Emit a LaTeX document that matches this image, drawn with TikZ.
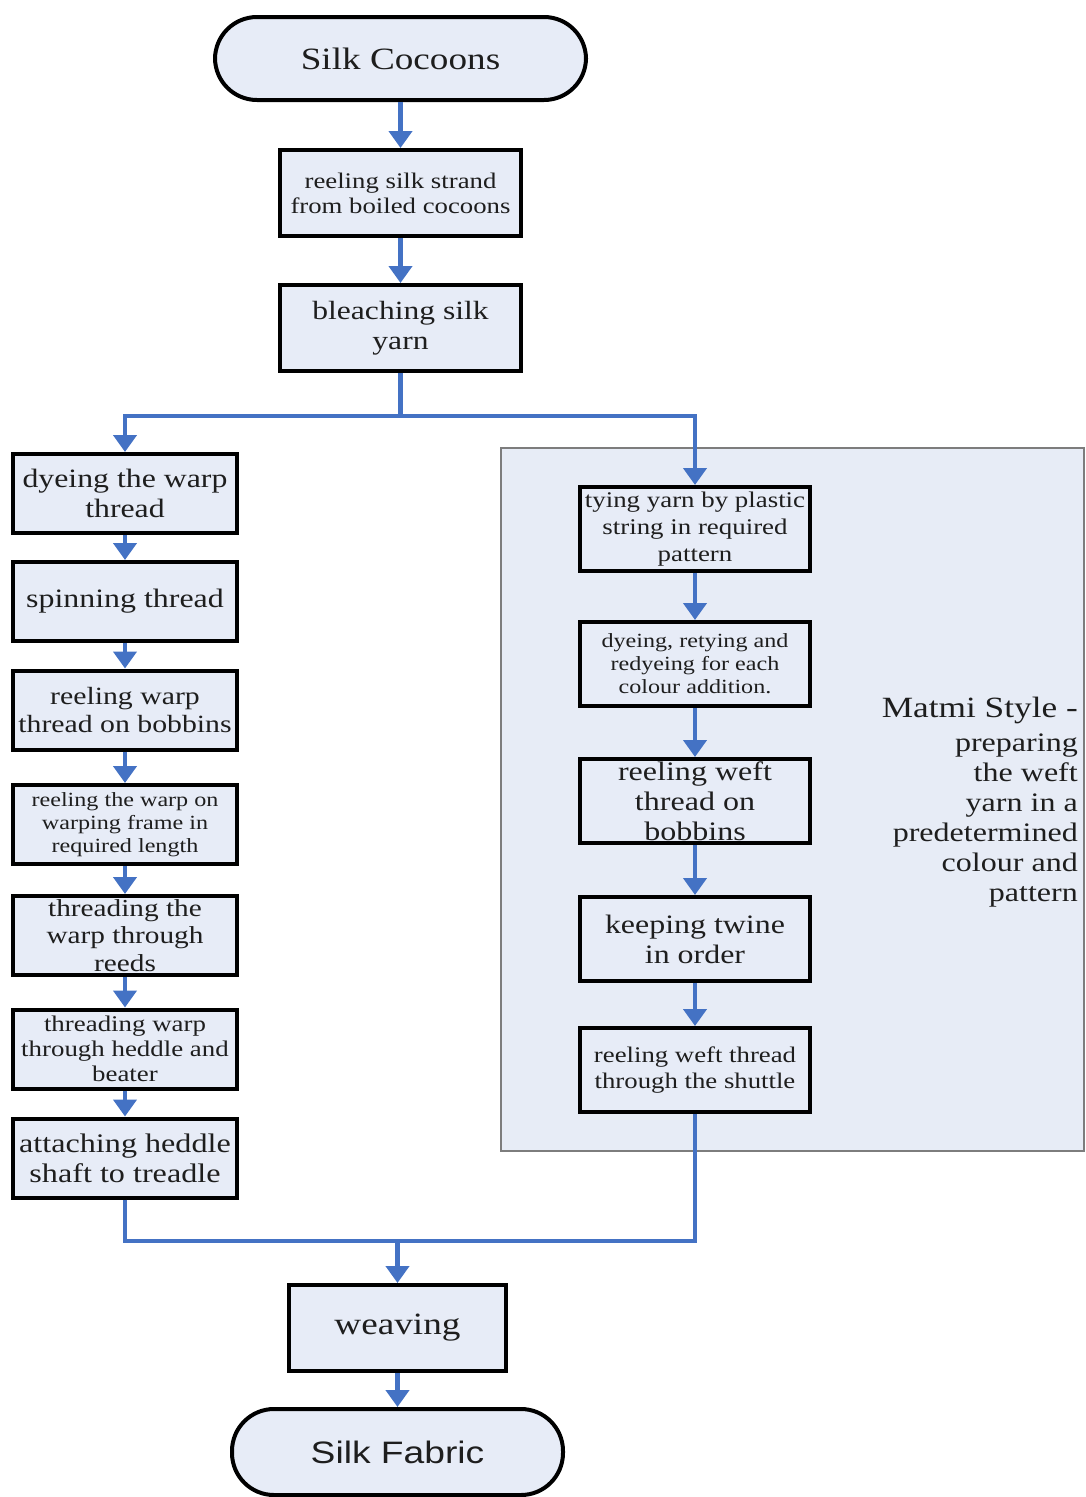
\documentclass[tikz,border=0pt]{standalone}
\usepackage{fontspec}
\setmainfont{Liberation Serif}[FakeStretch=1.2]
\newfontfamily\labelsans{Liberation Sans}[FakeStretch=1.2]
\usetikzlibrary{arrows.meta}

\definecolor{boxfill}{RGB}{231,236,247}
\definecolor{panelfill}{RGB}{231,236,246}
\definecolor{panelline}{RGB}{125,125,125}
\definecolor{flowblue}{RGB}{68,114,196}
\definecolor{ink}{RGB}{30,30,30}

\newcommand\fsz[2]{\fontsize{#1}{#2}\selectfont}

\begin{document}
\begin{tikzpicture}[x=1pt,y=-1pt,
  stepbox/.style={draw=black, line width=4pt, fill=boxfill, inner sep=0pt,
                  align=center, text=ink},
  leftbox/.style={stepbox, minimum width=224pt, minimum height=79pt},
  rightbox/.style={stepbox, minimum width=230pt, minimum height=84pt},
  terminal/.style={stepbox, rounded corners=42pt},
  flowline/.style={draw=flowblue, line width=4.5pt},
  flowarrow/.style={flowline, -{Triangle[width=23pt,length=17pt]}},
  note/.style={inner sep=0pt, text=ink, anchor=base east}
]
\useasboundingbox (0,0) rectangle (1086,1497);

% shaded panel for the weft preparation branch
\node[draw=panelline, line width=2pt, fill=panelfill, inner sep=0pt,
      minimum width=583pt, minimum height=703pt] (panel) at (792.5,799.5) {};

% main trunk
\node[terminal, minimum width=371pt, minimum height=83pt, font=\fsz{31}{36}]
  (cocoons) at (400.5,58.5) {Silk Cocoons};
\node[stepbox, minimum width=241pt, minimum height=86pt, font=\fsz{22.3}{25}]
  (reel) at (400.5,193) {reeling silk strand\\from boiled cocoons};
\node[stepbox, minimum width=241pt, minimum height=86pt, font=\fsz{26.3}{30}]
  (bleach) at (400.5,328) {bleaching silk\\yarn};

% warp branch
\node[leftbox, font=\fsz{26.5}{30}] (dye) at (125,493.5) {dyeing the warp\\thread};
\node[leftbox, font=\fsz{26.6}{30}] (spin) at (125,601.5) {spinning thread};
\node[leftbox, font=\fsz{24.8}{28}] (bob) at (125,710) {reeling warp\\thread on bobbins};
\node[leftbox, font=\fsz{20.1}{23}] (frame) at (125,824.5) {reeling the warp on\\warping frame in\\required length};
\node[leftbox, font=\fsz{24.4}{27.5}] (reeds) at (125,935.5) {threading the\\warp through\\reeds};
\node[leftbox, font=\fsz{22.4}{25}] (heddle) at (125,1049) {threading warp\\through heddle and\\beater};
\node[leftbox, font=\fsz{26.8}{30}] (attach) at (125,1158) {attaching heddle\\shaft to treadle};

% weft branch
\node[rightbox, font=\fsz{22.4}{27}] (tie) at (695,529) {tying yarn by plastic\\string in required\\pattern};
\node[rightbox, font=\fsz{20.1}{23}] (retie) at (695,664) {dyeing, retying and\\redyeing for each\\colour addition.};
\node[rightbox, font=\fsz{26.7}{30}] (weft) at (695,801) {reeling weft\\thread on\\bobbins};
\node[rightbox, font=\fsz{26.6}{30}] (twine) at (695,939) {keeping twine\\in order};
\node[rightbox, font=\fsz{22.3}{26}] (shuttle) at (695,1070) {reeling weft thread\\through the shuttle};

% branch caption
\node[note, font=\fsz{29.4}{34}] (mtitle) at (1078,717) {Matmi Style -};
\foreach \t [count=\i] in {preparing, the weft, yarn in a, predetermined, colour and, pattern}
  \node[note, font=\fsz{26.7}{30}] (mline\i) at (1078,721+30*\i) {\t};

% end of the process
\node[stepbox, minimum width=217pt, minimum height=86pt, font=\fsz{31}{36}]
  (weave) at (397.5,1328) {weaving};
\node[terminal, minimum width=331pt, minimum height=86pt, font=\labelsans\fsz{31}{36}]
  (fabric) at (397.5,1452) {Silk Fabric};

% connectors
\coordinate (split) at (400.5,416);
\coordinate (merge) at (397.5,1241);

\draw[flowarrow] (cocoons) -- (reel);
\draw[flowarrow] (reel) -- (bleach);
\draw[flowline] (bleach.south) -- (split);
\draw[flowarrow] (split) -| (dye.north);
\draw[flowarrow] (split) -| (tie.north);

\draw[flowarrow] (dye) -- (spin);
\draw[flowarrow] (spin) -- (bob);
\draw[flowarrow] (bob) -- (frame);
\draw[flowarrow] (frame) -- (reeds);
\draw[flowarrow] (reeds) -- (heddle);
\draw[flowarrow] (heddle) -- (attach);

\draw[flowarrow] (tie) -- (retie);
\draw[flowarrow] (retie) -- (weft);
\draw[flowarrow] (weft) -- (twine);
\draw[flowarrow] (twine) -- (shuttle);

\draw[flowline] (attach.south) |- (merge);
\draw[flowline] (shuttle.south) |- (merge);
\draw[flowarrow] (merge) -- (weave.north);
\draw[flowarrow] (weave) -- (fabric);
\end{tikzpicture}
\end{document}
